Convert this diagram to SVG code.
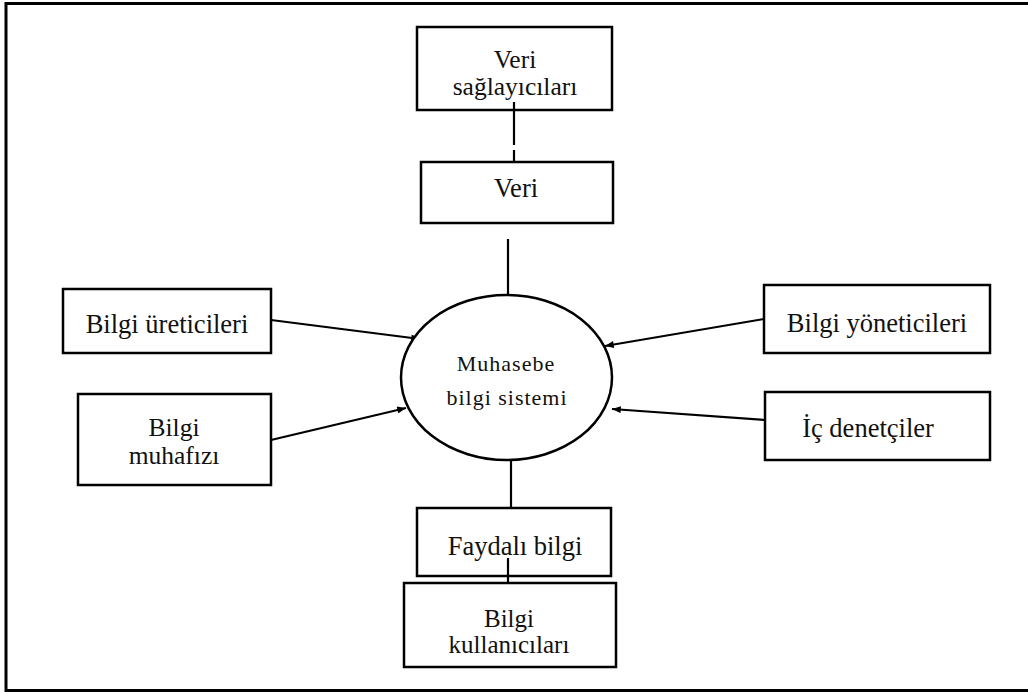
<svg xmlns="http://www.w3.org/2000/svg" width="1028" height="692" viewBox="0 0 1028 692">
<defs>
<style>
.box{fill:#fff;stroke:#000;stroke-width:2.5}
.t{font-family:'Liberation Serif','DejaVu Serif',serif;font-size:26.5px;fill:#111;text-anchor:middle}
.t2{font-family:'Liberation Serif','DejaVu Serif',serif;font-size:25.5px;fill:#111;text-anchor:middle}
.t3{font-family:'Liberation Serif','DejaVu Serif',serif;font-size:25px;fill:#111;text-anchor:middle}
.et{font-family:'Liberation Serif','DejaVu Serif',serif;font-size:22px;fill:#111;text-anchor:middle;letter-spacing:1px}
.c{stroke:#000;stroke-width:2.2;fill:none}
</style>
<marker id="ah" viewBox="0 0 10 8" refX="10" refY="4" markerWidth="10" markerHeight="7" markerUnits="userSpaceOnUse" orient="auto">
<path d="M0,0 L10,4 L0,8 Z" fill="#000"/>
</marker>
</defs>
<rect width="1028" height="692" fill="#fff"/>
<path d="M1030,3.5 H6 V690.5 H1030" fill="none" stroke="#000" stroke-width="3"/>

<g id="connectors">
<line class="c" x1="514" y1="102" x2="514" y2="145"/>
<line class="c" x1="514" y1="150" x2="514" y2="162"/>
<line class="c" x1="508" y1="239" x2="508" y2="296"/>
<line class="c" x1="511" y1="460" x2="511" y2="508"/>
<line class="c" x1="271" y1="320" x2="420" y2="339" marker-end="url(#ah)"/>
<line class="c" x1="271" y1="440" x2="406" y2="408" marker-end="url(#ah)"/>
<line class="c" x1="764" y1="319" x2="605" y2="346" marker-end="url(#ah)"/>
<line class="c" x1="765" y1="420" x2="612" y2="409" marker-end="url(#ah)"/>
</g>

<g id="veri-saglayicilari">
<rect class="box" x="417" y="27" width="195" height="83" fill-opacity="0"/>
<text class="t2" x="515" y="68" font-family="Liberation Serif">Veri</text>
<text class="t2" x="515" y="95" font-family="Liberation Serif">sağlayıcıları</text>
</g>
<g id="veri">
<rect class="box" x="421" y="162" width="192" height="61"/>
<text class="t" x="516" y="197" font-family="Liberation Serif">Veri</text>
</g>
<g id="muhasebe-bilgi-sistemi">
<ellipse cx="506.5" cy="377.5" rx="105.5" ry="82.5" fill="#fff" stroke="#000" stroke-width="2.5"/>
<text class="et" x="506" y="371" font-family="Liberation Serif">Muhasebe</text>
<text class="et" x="507" y="405" font-family="Liberation Serif">bilgi sistemi</text>
</g>
<g id="bilgi-ureticileri">
<rect class="box" x="63" y="289" width="208" height="64"/>
<text class="t" x="167" y="333" font-family="Liberation Serif">Bilgi üreticileri</text>
</g>
<g id="bilgi-muhafizi">
<rect class="box" x="78" y="394" width="193" height="91"/>
<text class="t2" x="174" y="436" font-family="Liberation Serif">Bilgi</text>
<text class="t2" x="174" y="464" font-family="Liberation Serif">muhafızı</text>
</g>
<g id="bilgi-yoneticileri">
<rect class="box" x="764" y="285" width="226" height="68"/>
<text class="t" x="877" y="332" font-family="Liberation Serif">Bilgi yöneticileri</text>
</g>
<g id="ic-denetciler">
<rect class="box" x="765" y="392" width="225" height="68"/>
<text class="t" x="868" y="437" font-family="Liberation Serif">İç denetçiler</text>
</g>
<g id="faydali-bilgi">
<rect class="box" x="417" y="508" width="194" height="68"/>
<text class="t" x="515" y="555" font-family="Liberation Serif">Faydalı bilgi</text>
</g>
<line class="c" x1="508" y1="558" x2="508" y2="583"/>
<g id="bilgi-kullanicilari">
<rect class="box" x="404" y="583" width="212" height="84"/>
<text class="t3" x="509" y="627" font-family="Liberation Serif">Bilgi</text>
<text class="t3" x="509" y="653" font-family="Liberation Serif">kullanıcıları</text>
</g>
</svg>
